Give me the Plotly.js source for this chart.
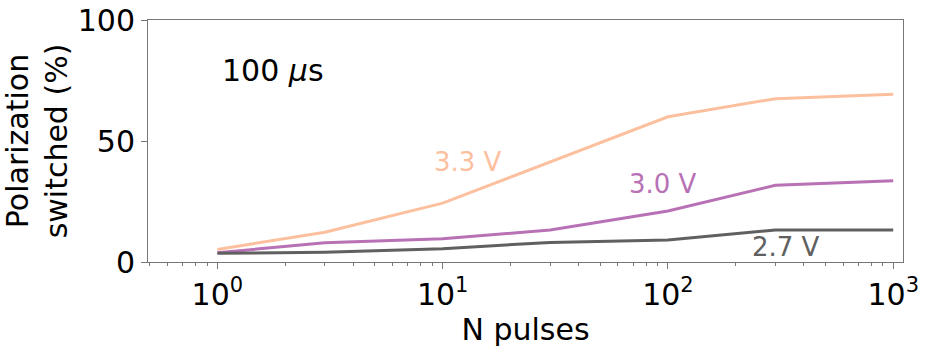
<!DOCTYPE html>
<html>
<head>
<meta charset="utf-8">
<script src="https://cdn.plot.ly/plotly-3.0.1.min.js"></script>
<style>
  html, body { margin: 0; padding: 0; background: #fff; }
  #graph { width: 929px; height: 348px; }
</style>
</head>
<body>
<div id="graph"></div>
<script>
// N pulses and polarization switched (%) for each voltage, 100 us pulses
var nPulses = [1, 3, 10, 30, 100, 300, 1000];
var v33 = [5.2, 12.3, 24.3, 41.3, 60.0, 67.5, 69.3];
var v30 = [3.8, 8.0, 9.6, 13.2, 21.1, 31.7, 33.6];
var v27 = [3.6, 4.0, 5.5, 8.1, 9.1, 13.2, 13.2];

var seriesNames = ['3.3 V', '3.0 V', '2.7 V'];
var seriesColors = ['#fdc09f', '#b871b5', '#606060'];
// where each inline label sits (data coords)
var labelX = [13, 95, 334];
var labelY = [41.3, 32.2, 6.2];

var xTickVals = [1, 10, 100, 1000];
var xTickText = ['10<sup>0</sup>', '10<sup>1</sup>', '10<sup>2</sup>', '10<sup>3</sup>'];

// minor ticks 2..9 of each decade
var minorVals = [];
for (var k = -1; k <= 3; k++) {
    for (var m = 2; m <= 9; m++) {
        minorVals.push(m * Math.pow(10, k));
    }
}

var allY = [v33, v30, v27];
var data = [];
for (var i = 0; i < 3; i++) {
    data.push({
        x: nPulses,
        y: allY[i],
        mode: 'lines',
        name: seriesNames[i],
        line: {color: seriesColors[i], width: 3}
    });
}

var annotations = [];
for (var i = 0; i < 3; i++) {
    annotations.push({
        x: Math.log10(labelX[i]), y: labelY[i],
        xref: 'x', yref: 'y',
        text: seriesNames[i],
        showarrow: false,
        font: {size: 26, color: seriesColors[i]}
    });
}
annotations.push({
    x: Math.log10(1.03), y: 79.3,
    xref: 'x', yref: 'y',
    xanchor: 'left',
    text: '100 <i>μ</i>s',
    showarrow: false,
    font: {size: 30, color: '#000'}
});

var layout = {
    width: 929,
    height: 348,
    margin: {l: 148, r: 26, t: 20, b: 86},
    paper_bgcolor: '#fff',
    plot_bgcolor: '#fff',
    showlegend: false,
    font: {family: 'DejaVu Sans', size: 30, color: '#000'},
    xaxis: {
        type: 'log',
        range: [Math.log10(0.492), Math.log10(1105)],
        tickmode: 'array',
        tickvals: xTickVals,
        ticktext: xTickText,
        ticks: 'outside',
        ticklen: 6,
        tickcolor: '#777',
        showgrid: false,
        zeroline: false,
        showline: true,
        linecolor: '#777',
        linewidth: 1,
        mirror: true,
        minor: {tickmode: 'array', tickvals: minorVals, ticks: 'outside', ticklen: 3, tickcolor: '#777', showgrid: false},
        tickfont: {size: 30},
        title: {text: 'N pulses', font: {size: 30}, standoff: 0}
    },
    yaxis: {
        range: [0, 100],
        tickvals: [0, 50, 100],
        ticks: 'outside',
        ticklen: 6,
        tickcolor: '#777',
        showgrid: false,
        zeroline: false,
        showline: true,
        linecolor: '#777',
        linewidth: 1,
        mirror: true,
        tickfont: {size: 30},
        title: {text: 'Polarization<br>switched (%)', font: {size: 30}, standoff: 6}
    },
    annotations: annotations
};

Plotly.newPlot('graph', data, layout, {staticPlot: true});
</script>
</body>
</html>
